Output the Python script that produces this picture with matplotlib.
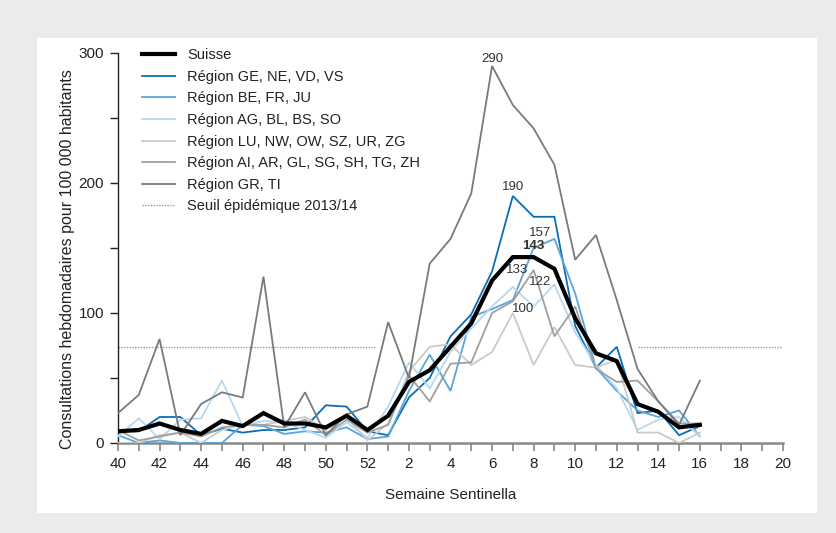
import matplotlib
matplotlib.use("Agg")
import matplotlib.pyplot as plt

plt.rcParams['font.family'] = ['Liberation Sans', 'DejaVu Sans']

weeks = list(range(40, 53)) + list(range(1, 21))

suisse = [9, 10, 15, 10, 7, 17, 13, 23, 15, 15, 12, 21, 10, 21, 47, 56, 74, 92, 125, 143, 143, 134, 96, 69, 63, 30, 24, 12, 14]
ge_ne_vd_vs = [9, 9, 20, 20, 6, 11, 8, 10, 10, 12, 29, 28, 9, 6, 35, 50, 82, 99, 132, 190, 174, 174, 90, 58, 74, 23, 25, 6, 13]
be_fr_ju = [6, 0, 2, 0, 0, 0, 14, 13, 7, 9, 8, 12, 3, 5, 40, 68, 40, 97, 103, 110, 150, 157, 115, 58, 40, 25, 20, 25, 5]
ag_bl_bs_so = [5, 19, 3, 18, 19, 48, 13, 17, 16, 10, 4, 16, 4, 28, 62, 42, 70, 88, 105, 120, 105, 122, 85, 60, 42, 10, 18, 20, 5]
lu_nw_ow_sz_ur_zg = [0, 0, 6, 8, 0, 10, 14, 14, 17, 20, 10, 20, 2, 15, 55, 74, 76, 60, 70, 100, 60, 89, 60, 58, 64, 8, 8, 0, 8]
ai_ar_gl_sg_sh_tg_zh = [10, 2, 5, 8, 5, 12, 14, 14, 12, 18, 6, 18, 8, 14, 52, 32, 61, 62, 100, 109, 133, 82, 105, 57, 47, 48, 32, 15, 15]
gr_ti = [23, 37, 80, 6, 30, 39, 35, 128, 12, 39, 6, 22, 28, 93, 50, 138, 157, 192, 290, 260, 242, 214, 141, 160, 110, 57, 32, 14, 48]

threshold = 74
threshold_spans = [(0, 12.4), (25, 32)]

series = [
    ("Suisse", suisse, "#000000", 3.0),
    ("Région GE, NE, VD, VS", ge_ne_vd_vs, "#0a6eb4", 1.3),
    ("Région BE, FR, JU", be_fr_ju, "#5aa5dc", 1.3),
    ("Région AG, BL, BS, SO", ag_bl_bs_so, "#b7d8f0", 1.3),
    ("Région LU, NW, OW, SZ, UR, ZG", lu_nw_ow_sz_ur_zg, "#cacaca", 1.3),
    ("Région AI, AR, GL, SG, SH, TG, ZH", ai_ar_gl_sg_sh_tg_zh, "#a0a0a0", 1.3),
    ("Région GR, TI", gr_ti, "#7a7a7a", 1.3),
]

# text, series, index, dx(pt), dy(pt), bold
labels_pts = [
    ("290", gr_ti, 18, 0.5, 5, False),
    ("190", ge_ne_vd_vs, 19, 0, 6.5, False),
    ("157", be_fr_ju, 21, -10, 4.5, False),
    ("143", suisse, 20, 0, 8, True),
    ("133", ai_ar_gl_sg_sh_tg_zh, 20, -12, 0, False),
    ("122", ag_bl_bs_so, 21, -10, 2, False),
    ("100", lu_nw_ow_sz_ur_zg, 19, 7.5, 3, False),
]

fig = plt.figure(figsize=(8.37, 5.33), dpi=100)
fig.patch.set_facecolor("#ebebeb")
bg = fig.add_axes([37 / 837, 1 - 513 / 533, (817 - 37) / 837, (513 - 38) / 533], zorder=-5)
bg.set_facecolor("white")
bg.set_xticks([]); bg.set_yticks([])
for s in bg.spines.values():
    s.set_visible(False)

ax = fig.add_axes([118 / 837, 1 - 443 / 533, (783 - 118) / 837, (443 - 53) / 533], zorder=1)
ax.set_facecolor("none")

x = list(range(len(suisse)))
handles = []
for i, (name, vals, col, lw) in enumerate(series):
    z = 10 if name == "Suisse" else 3 + i * 0.1
    h, = ax.plot(x, vals, color=col, lw=lw, label=name, zorder=z, solid_joinstyle='miter')
    handles.append(h)
for (a, b) in threshold_spans:
    th, = ax.plot([a, b], [threshold, threshold], color="#9a9a9a", lw=1.0, ls=(0, (1, 1)), zorder=2)
th.set_label("Seuil épidémique 2013/14")
handles.append(th)

for txt, vals, idx, dx, dy, bold in labels_pts:
    ax.annotate(txt, (idx, vals[idx]), xytext=(dx, dy), textcoords="offset points",
                ha="center", va="center", fontsize=9.5, color="#333333",
                fontweight="bold" if bold else "normal", zorder=12)

ax.set_xlim(0, len(weeks) - 1)
ax.set_ylim(0, 300)
ax.set_xticks(range(len(weeks)))
ax.set_xticklabels([str(w) if i % 2 == 0 else "" for i, w in enumerate(weeks)])
ax.set_yticks(range(0, 301, 50))
ax.set_yticklabels([str(v) if v % 100 == 0 else "" for v in range(0, 301, 50)])

for s in ["top", "right"]:
    ax.spines[s].set_visible(False)
ax.spines["left"].set_color("#222222")
ax.spines["left"].set_linewidth(1.0)
ax.spines["bottom"].set_color("#888888")
ax.spines["bottom"].set_linewidth(1.8)
ax.tick_params(axis="x", direction="out", length=6, width=1.2, color="#888888",
               labelsize=11, labelcolor="#222222", pad=4)
ax.tick_params(axis="y", direction="out", length=6, width=1.0, color="#222222",
               labelsize=11, labelcolor="#222222", pad=4)

ax.set_xlabel("Semaine Sentinella", fontsize=11, color="#222222", labelpad=12)
ax.set_ylabel("Consultations hebdomadaires pour 100 000 habitants", fontsize=11.5,
              color="#222222")
ax.yaxis.set_label_coords(-0.0647, 0.472)

leg = ax.legend(handles=handles, loc="upper left", bbox_to_anchor=(0.027, 1.027), frameon=False,
                fontsize=10.5, handlelength=2.3, handletextpad=0.8, labelspacing=0.52,
                borderaxespad=0)
for t in leg.get_texts():
    t.set_color("#222222")

fig.savefig("out.png", dpi=100, facecolor=fig.get_facecolor())
